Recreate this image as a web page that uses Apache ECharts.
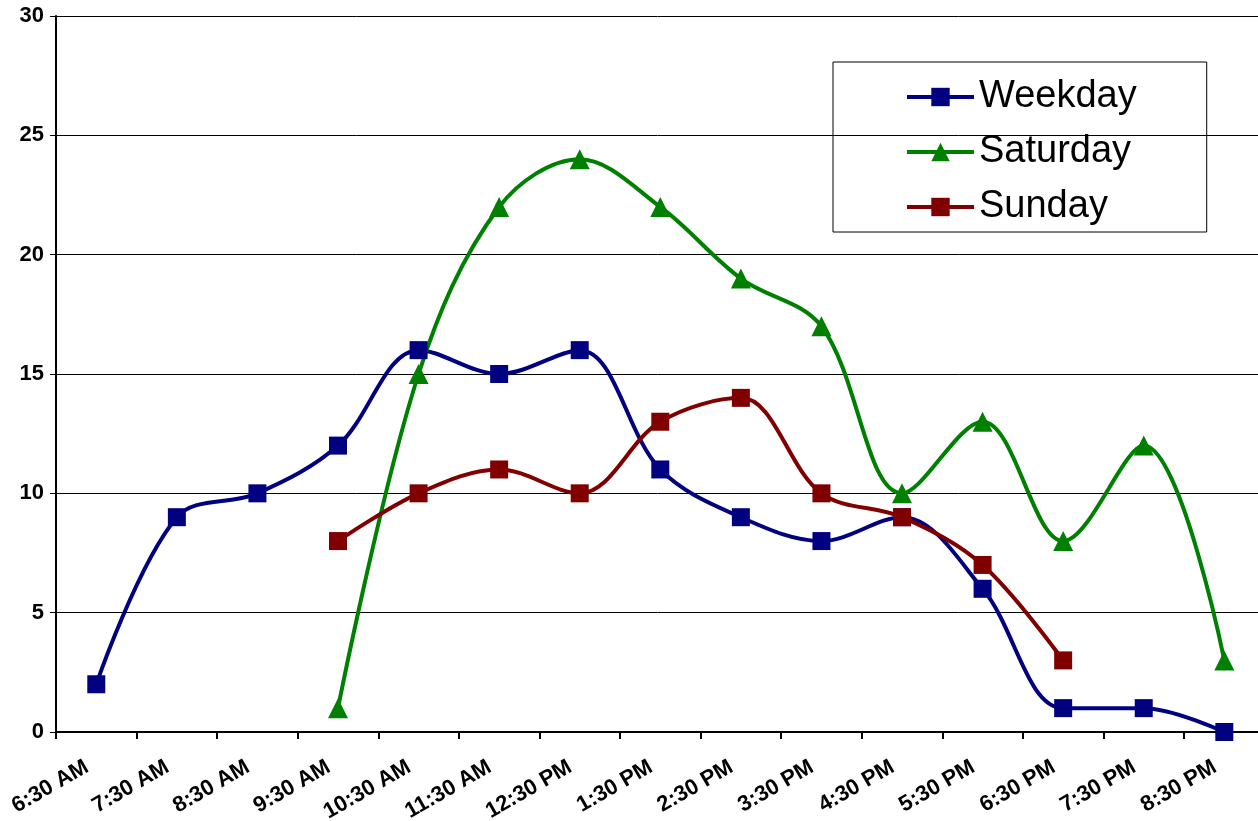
<!DOCTYPE html>
<html>
<head>
<meta charset="utf-8">
<script src="https://cdn.jsdelivr.net/npm/echarts@6/dist/echarts.min.js"></script>
<style>
html,body{margin:0;padding:0;background:#fff;}
#c{width:1258px;height:821px;}
</style>
</head>
<body>
<div id="c"></div>
<script>
var categories = ['6:30 AM','7:30 AM','8:30 AM','9:30 AM','10:30 AM','11:30 AM','12:30 PM','1:30 PM','2:30 PM','3:30 PM','4:30 PM','5:30 PM','6:30 PM','7:30 PM','8:30 PM'];
var weekday  = [2, 9, 10, 12, 16, 15, 16, 11, 9, 8, 9, 6, 1, 1, 0];
var saturday = [null, null, null, 1, 15, 22, 24, 22, 19, 17, 10, 13, 8, 12, 3];
var sunday   = [null, null, null, 8, 10, 11, 10, 13, 14, 10, 9, 7, 3, null, null];

var chart = echarts.init(document.getElementById('c'));
var font = 'Arial, "Liberation Sans", sans-serif';
function mk(name, data, color, symbol, size) {
  return {
    name: name, type: 'line', data: data, smooth: 0.35,
    symbol: symbol, symbolSize: size, showSymbol: true,
    lineStyle: {color: color, width: 4},
    itemStyle: {color: color},
    connectNulls: false, animation: false
  };
}
chart.setOption({
  animation: false,
  backgroundColor: '#fff',
  grid: {left: 56, top: 16, bottom: 89, width: 1208.6, containLabel: false, outerBoundsMode: 'none'},
  legend: {
    orient: 'vertical', left: 833, top: 62,
    padding: [15, 70, 5, 72],
    borderColor: '#000', borderWidth: 1, borderRadius: 0,
    itemWidth: 67, itemHeight: 23, itemGap: 15,
    lineStyle: {width: 4},
    textStyle: {fontFamily: font, fontSize: 38, color: '#000', lineHeight: 40},
    data: ['Weekday', 'Saturday', 'Sunday']
  },
  xAxis: {
    type: 'category', data: categories, boundaryGap: true,
    axisLine: {lineStyle: {color: '#000', width: 2}},
    axisTick: {show: true, length: 7, lineStyle: {color: '#000', width: 2}},
    axisLabel: {rotate: 30, margin: 28, padding: [0, 11, 0, 0], fontFamily: font, fontSize: 22, fontWeight: 'bold', color: '#000', interval: 0}
  },
  yAxis: {
    type: 'value', min: 0, max: 30, interval: 5,
    axisLine: {show: true, lineStyle: {color: '#000', width: 2}},
    axisTick: {show: true, length: 6, lineStyle: {color: '#000', width: 1}},
    splitLine: {lineStyle: {color: '#000', width: 1}},
    axisLabel: {margin: 12, fontFamily: font, fontSize: 22, fontWeight: 'bold', color: '#000'}
  },
  series: [
    mk('Weekday', weekday, '#000080', 'rect', 18),
    mk('Saturday', saturday, '#008000', 'triangle', 20),
    mk('Sunday', sunday, '#800000', 'rect', 18)
  ]
});
</script>
</body>
</html>
